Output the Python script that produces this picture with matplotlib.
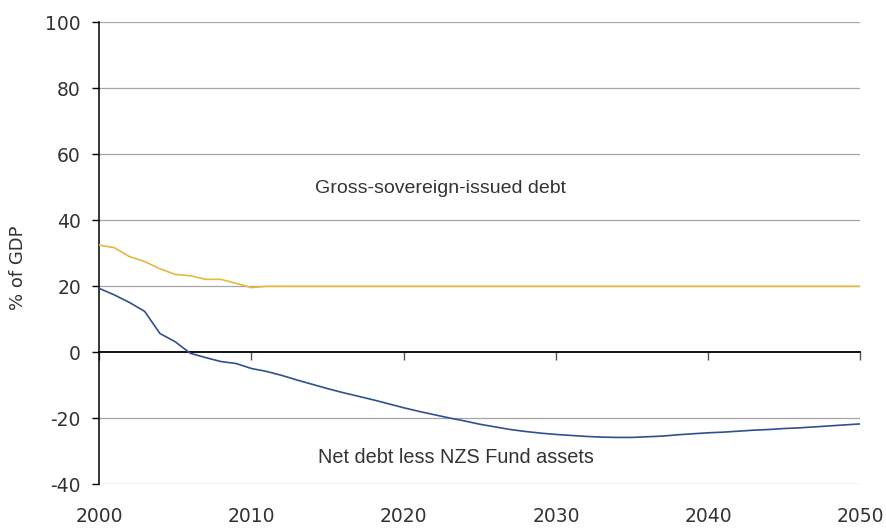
import matplotlib
matplotlib.use("Agg")
import matplotlib.pyplot as plt

# Years and projections (% of GDP)
years = list(range(2000, 2051))

gross_debt = [32.5, 31.7, 29.0, 27.5, 25.3, 23.6, 23.2, 22.1, 22.1, 20.9,
              19.6, 20.0] + [20.0] * 39

net_debt = [19.4, 17.4, 15.1, 12.4, 5.7, 3.2, -0.3, -1.6, -2.8, -3.4,
            -4.9, -5.8, -7.0, -8.4, -9.7, -11.0, -12.2, -13.3, -14.4, -15.6,
            -16.8, -17.9, -18.9, -19.9, -20.8, -21.8, -22.6, -23.4, -24.0, -24.5,
            -24.9, -25.2, -25.5, -25.7, -25.8, -25.8, -25.6, -25.4, -25.0, -24.7,
            -24.4, -24.2, -23.9, -23.6, -23.4, -23.1, -22.9, -22.6, -22.3, -22.0,
            -21.7]

y_ticks = [-40, -20, 0, 20, 40, 60, 80, 100]
x_ticks = [2000, 2010, 2020, 2030, 2040, 2050]

GOLD = "#E6B840"
BLUE = "#30508F"
GRID = "#A6A6A6"
LABEL_FONT = ["Liberation Sans Narrow", "Liberation Sans", "DejaVu Sans"]

plt.rcParams["axes.unicode_minus"] = False


def main():
    fig = plt.figure(figsize=(8.86, 5.28), dpi=100)
    ax = fig.add_axes([0.1117, 0.0828, 0.9712 - 0.1117, 0.9578 - 0.0828])

    ax.set_xlim(2000, 2050)
    ax.set_ylim(-40, 100)

    # horizontal gridlines
    for y in y_ticks:
        if y != 0:
            ax.axhline(y, color=GRID, lw=0.9, zorder=1)

    ax.plot(years, gross_debt, color=GOLD, lw=1.2, zorder=3)
    ax.plot(years, net_debt, color=BLUE, lw=1.2, zorder=3)

    # spines: left black, bottom sits on zero line
    for s in ["top", "right"]:
        ax.spines[s].set_visible(False)
    ax.spines["left"].set_color("black")
    ax.spines["left"].set_linewidth(1.1)
    ax.spines["bottom"].set_position(("data", 0))
    ax.spines["bottom"].set_color("black")
    ax.spines["bottom"].set_linewidth(1.3)

    ax.set_xticks(x_ticks)
    ax.tick_params(axis="x", direction="out", length=6, width=1,
                   color="#555555", labelbottom=False)
    ax.set_yticks(y_ticks)
    ax.tick_params(axis="y", direction="out", length=5, width=1,
                   color="black", pad=8, labelsize=13.5, labelcolor="#333333")

    # year labels along the bottom of the frame
    sec = ax.secondary_xaxis("bottom")
    sec.set_xticks(x_ticks)
    sec.spines["bottom"].set_visible(False)
    sec.tick_params(length=0, pad=16, labelsize=13.5, labelcolor="#333333")

    fig.text(18 / 886, 1 - 268 / 528, "% of GDP", rotation=90,
             ha="center", va="center", fontsize=13, color="#333333")

    ax.text(2014.2, 48.2, "Gross-sovereign-issued debt", family=LABEL_FONT,
            fontsize=14, color="#333333", ha="left", va="baseline")
    ax.text(2014.4, -33.6, "Net debt less NZS Fund assets", family=LABEL_FONT,
            fontsize=14.3, color="#333333", ha="left", va="baseline")

    fig.savefig("out.png", dpi=100)


if __name__ == "__main__":
    main()
